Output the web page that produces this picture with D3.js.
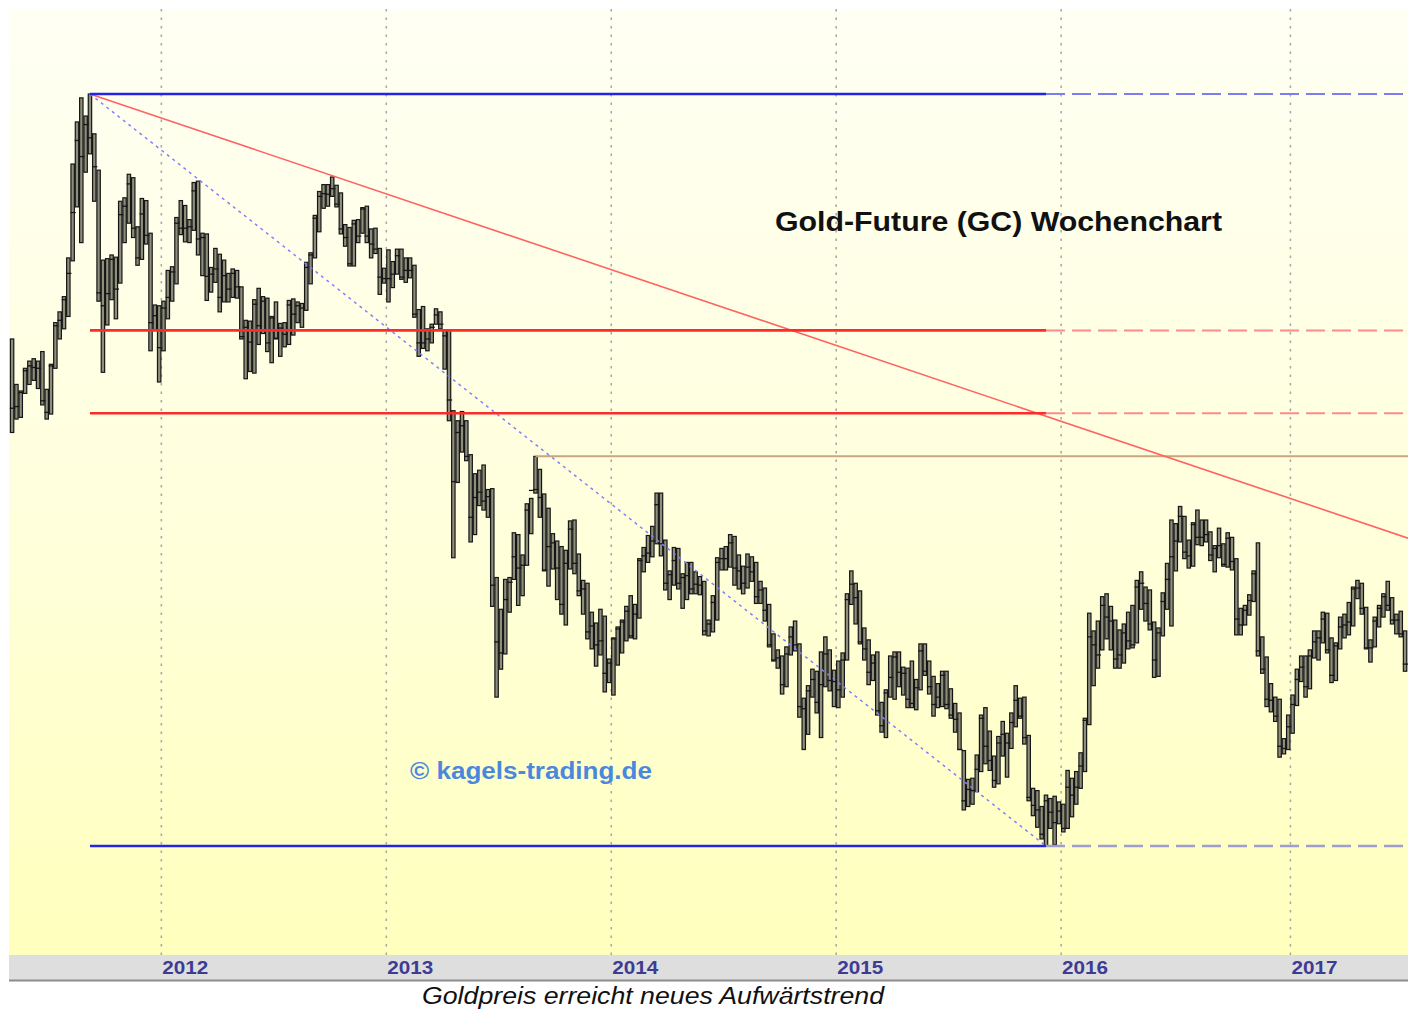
<!DOCTYPE html>
<html>
<head>
<meta charset="utf-8">
<script src="https://cdn.jsdelivr.net/npm/d3@7"></script>
<style>
  html, body { margin: 0; padding: 0; background: #ffffff; }
  svg { display: block; }
</style>
</head>
<body>
<svg id="chart" width="1408" height="1009"></svg>
<script>
// Gold futures (GC), weekly bars: [high, low, close], week ending Friday
const bars2011 = [
  [1577,1462,1491],[1520,1478,1493],[1512,1480,1510],[1540,1509,1537],[1549,1520,1543],
  [1552,1525,1541],[1549,1515,1540],[1561,1495,1500],[1514,1478,1486],[1545,1484,1543],
  [1598,1540,1594],[1612,1577,1601],[1632,1590,1628],[1684,1606,1663],[1817,1680,1747],
  [1880,1755,1852],[1917,1705,1828],[1889,1805,1876],[1923,1832,1856],[1862,1763,1813],
  [1808,1626,1637],[1681,1535,1620],[1683,1595,1636],[1688,1628,1682],[1685,1603,1642],
  [1763,1650,1744],[1768,1705,1756],[1802,1732,1788],[1797,1712,1725],[1727,1674,1684],
  [1767,1682,1745],[1764,1703,1715],[1718,1562,1598],[1621,1588,1607],[1620,1523,1566]
];
const bars2012 = [
  [1626,1562,1617],[1667,1603,1631],[1672,1626,1665],[1740,1649,1732],[1764,1716,1725],
  [1757,1706,1725],[1737,1705,1727],[1790,1722,1778],[1792,1688,1710],[1718,1660,1712],
  [1717,1627,1659],[1671,1638,1662],[1697,1651,1669],[1689,1612,1631],[1681,1625,1660],
  [1663,1625,1642],[1669,1631,1663],[1667,1630,1645],[1645,1577,1580],[1601,1527,1592],
  [1600,1536,1573],[1628,1534,1622],[1643,1570,1594],[1632,1584,1626],[1630,1561,1572],
  [1606,1547,1604],[1625,1577,1578],[1597,1555,1591],[1598,1567,1583],[1627,1570,1621],
  [1629,1582,1609],[1625,1598,1620],[1623,1592,1617],[1678,1614,1671],[1691,1649,1688],
  [1743,1684,1739],[1777,1720,1770],[1787,1753,1774],[1787,1756,1773],[1798,1770,1781],
  [1786,1755,1759],[1775,1717,1724],[1730,1700,1712],[1726,1673,1676],[1736,1673,1731],
  [1737,1705,1714],[1754,1718,1752],[1756,1705,1714],[1724,1684,1703],[1725,1690,1696],
  [1697,1635,1658],[1670,1650,1656]
];
const bars2013 = [
  [1695,1625,1656],[1679,1644,1662],[1696,1662,1687],[1696,1655,1658],[1684,1651,1667],
  [1684,1657,1667],[1674,1605,1609],[1615,1555,1572],[1619,1565,1572],[1590,1562,1577],
  [1596,1572,1592],[1616,1596,1608],[1612,1590,1596],[1588,1539,1581],[1589,1476,1501],
  [1488,1321,1405],[1476,1404,1462],[1487,1439,1470],[1476,1429,1434],[1436,1338,1365],
  [1414,1346,1387],[1418,1378,1393],[1424,1373,1383],[1396,1365,1388],[1397,1270,1292],
  [1300,1180,1234],[1267,1207,1223],[1298,1222,1277],[1300,1264,1295],[1348,1298,1322],
  [1346,1271,1310],[1324,1281,1313],[1380,1313,1373],[1386,1347,1395],[1434,1392,1396],
  [1419,1365,1387],[1391,1307,1308],[1375,1291,1333],[1347,1309,1337],[1339,1277,1310],
  [1333,1262,1272],[1329,1251,1315],[1361,1309,1352],[1362,1304,1315],[1325,1281,1286],
  [1297,1262,1288],[1294,1237,1244],[1264,1227,1250],[1253,1210,1231],[1267,1221,1235],
  [1260,1185,1203],[1217,1194,1213]
];
const bars2014 = [
  [1238,1182,1237],[1249,1211,1247],[1256,1223,1254],[1270,1235,1265],[1281,1238,1240],
  [1272,1237,1262],[1320,1258,1318],[1332,1306,1323],[1345,1316,1326],[1355,1322,1339],
  [1392,1336,1379],[1392,1323,1336],[1340,1287,1294],[1307,1277,1303],[1332,1292,1318],
  [1331,1288,1294],[1304,1268,1300],[1316,1277,1302],[1316,1283,1288],[1306,1283,1293],
  [1301,1282,1292],[1296,1241,1245],[1256,1240,1252],[1281,1244,1274],[1321,1256,1316],
  [1331,1308,1320],[1333,1308,1320],[1346,1311,1337],[1344,1292,1310],[1324,1288,1307],
  [1312,1283,1294],[1325,1289,1311],[1322,1296,1306],[1316,1273,1280],[1296,1273,1287],
  [1289,1255,1266],[1272,1229,1231],[1242,1215,1216],[1226,1208,1218],[1220,1183,1192],
  [1229,1190,1222],[1249,1221,1239],[1255,1225,1231],[1232,1161,1171],[1179,1131,1169],
  [1191,1145,1186],[1207,1180,1197],[1205,1165,1175],[1224,1142,1192],[1239,1190,1222],
  [1226,1186,1196],[1206,1171,1195]
];
const bars2015 = [
  [1215,1170,1187],[1223,1180,1216],[1283,1216,1277],[1307,1272,1293],[1294,1252,1279],
  [1286,1232,1234],[1248,1216,1227],[1236,1192,1204],[1221,1196,1213],[1224,1163,1167],
  [1175,1147,1153],[1187,1142,1184],[1220,1180,1199],[1224,1178,1219],[1224,1190,1204],
  [1209,1182,1203],[1208,1170,1178],[1215,1170,1174],[1197,1168,1189],[1232,1187,1225],
  [1232,1201,1205],[1215,1183,1190],[1200,1162,1173],[1193,1170,1180],[1205,1171,1201],
  [1205,1169,1173],[1188,1160,1163],[1174,1147,1159],[1165,1131,1131],[1130,1077,1085],
  [1104,1080,1095],[1105,1082,1094],[1126,1093,1113],[1163,1111,1160],[1170,1118,1134],
  [1148,1112,1121],[1125,1097,1103],[1143,1100,1137],[1157,1125,1145],[1146,1106,1137],
  [1165,1132,1156],[1191,1152,1177],[1179,1160,1162],[1180,1136,1142],[1144,1085,1088],
  [1096,1072,1081],[1094,1062,1077],[1080,1052,1056],[1090,1046,1085],[1087,1061,1075],
  [1089,1047,1066],[1084,1065,1076]
];
const bars2016 = [
  [1082,1058,1061],[1112,1061,1097],[1105,1071,1090],[1111,1082,1097],[1128,1096,1116],
  [1160,1111,1158],[1263,1154,1239],[1245,1191,1231],[1255,1208,1221],[1280,1226,1271],
  [1283,1237,1259],[1270,1226,1255],[1256,1208,1217],[1246,1208,1221],[1252,1213,1243],
  [1264,1227,1235],[1271,1228,1231],[1297,1233,1290],[1306,1267,1294],[1290,1255,1273],
  [1287,1246,1252],[1254,1199,1216],[1248,1200,1243],[1284,1240,1275],[1315,1267,1298],
  [1362,1250,1322],[1358,1307,1339],[1377,1338,1366],[1366,1320,1327],[1340,1310,1323],
  [1359,1312,1357],[1373,1335,1343],[1362,1334,1343],[1362,1338,1346],[1349,1318,1324],
  [1334,1306,1331],[1353,1321,1334],[1336,1312,1314],[1348,1311,1342],[1343,1308,1317],
  [1320,1241,1257],[1268,1241,1251],[1271,1251,1266],[1282,1261,1276],[1307,1275,1304],
  [1337,1220,1225],[1239,1203,1207],[1219,1171,1178],[1193,1166,1177],[1180,1157,1162],
  [1178,1124,1134],[1141,1127,1132],[1163,1131,1152]
];
const bars2017 = [
  [1182,1146,1173],[1207,1172,1197],[1220,1195,1209],[1220,1180,1190],[1226,1188,1220],
  [1245,1218,1234],[1245,1216,1238],[1264,1233,1257],[1263,1223,1226],[1238,1194,1201],
  [1233,1196,1230],[1259,1227,1249],[1262,1238,1251],[1274,1241,1254],[1290,1250,1288],
  [1297,1278,1289],[1294,1262,1268],[1269,1227,1228],[1236,1214,1228],[1259,1229,1255],
  [1271,1249,1268],[1283,1259,1280],[1296,1266,1271],[1279,1252,1256],[1262,1242,1256],
  [1265,1239,1242],[1245,1205,1212]
];

const yearLabels = ["2012", "2013", "2014", "2015", "2016", "2017"];

// Drawn chart levels
const allTimeHigh = { date: "2011-09-09", price: 1923 };
const cycleLow = { date: "2015-12-04", price: 1046 };
const lowerHigh = { date: "2012-10-05", price: 1800 };
const breakoutHigh = { date: "2013-08-30", price: 1434 };
const resistanceLevels = [1588, 1485];

const titleText = "Gold-Future (GC) Wochenchart";
const watermarkText = "\u00A9 kagels-trading.de";
const captionText = "Goldpreis erreicht neues Aufw\u00E4rtstrend";

// ---------------------------------------------------------------
const parse = d3.utcParse("%Y-%m-%d");
const svg = d3.select("#chart");
const fontFamily = "'Liberation Sans', Arial, sans-serif";

const plot = { left: 9, top: 9, right: 1408, bottom: 955 };
const bandBottom = 980;

const weeks = d3.utcFriday.range(Date.UTC(2011, 4, 6), Date.UTC(2017, 6, 8));
const allBars = [].concat(bars2011, bars2012, bars2013, bars2014, bars2015, bars2016, bars2017);
const data = allBars.map((b, i) => ({ date: weeks[i], high: b[0], low: b[1], close: b[2] }));

const x = d3.scaleUtc()
  .domain([Date.UTC(2011, 4, 1), Date.UTC(2017, 6, 15)])
  .range([plot.left, plot.right + 2]);

const y = d3.scaleLog()
  .domain([cycleLow.price, allTimeHigh.price])
  .range([846, 94]);

// background
const defs = svg.append("defs");
const grad = defs.append("linearGradient")
  .attr("id", "bg").attr("x1", 0).attr("y1", 0).attr("x2", 0).attr("y2", 1);
grad.append("stop").attr("offset", "0%").attr("stop-color", "#fffff4");
grad.append("stop").attr("offset", "55%").attr("stop-color", "#ffffdc");
grad.append("stop").attr("offset", "100%").attr("stop-color", "#ffffbd");

defs.append("clipPath").attr("id", "plotClip")
  .append("rect")
  .attr("x", plot.left).attr("y", plot.top)
  .attr("width", plot.right - plot.left).attr("height", plot.bottom - plot.top);

svg.append("rect")
  .attr("x", plot.left).attr("y", plot.top)
  .attr("width", plot.right - plot.left).attr("height", plot.bottom - plot.top)
  .attr("fill", "url(#bg)");

// time axis band
svg.append("rect")
  .attr("x", plot.left).attr("y", plot.bottom)
  .attr("width", plot.right - plot.left).attr("height", bandBottom - plot.bottom)
  .attr("fill", "#dedede");
svg.append("line")
  .attr("x1", plot.left).attr("x2", plot.right)
  .attr("y1", bandBottom + 0.5).attr("y2", bandBottom + 0.5)
  .attr("stroke", "#8c8c8c").attr("stroke-width", 2);

const g = svg.append("g").attr("clip-path", "url(#plotClip)");

// year separators sit between the last bar of a year and the first of the next
const yearStarts = yearLabels.map(yr => d3.utcFriday.ceil(Date.UTC(+yr, 0, 1)));
const halfWeek = 3.5 * 24 * 3600 * 1000;
const sepX = d => x(new Date(+d - halfWeek));

g.selectAll("line.grid")
  .data(yearStarts)
  .join("line")
  .attr("class", "grid")
  .attr("x1", sepX)
  .attr("x2", sepX)
  .attr("y1", plot.top).attr("y2", plot.bottom)
  .attr("stroke", "#aaaaaa")
  .attr("stroke-width", 1.6)
  .attr("stroke-dasharray", "2.5 6");

// year labels, starting at each separator
svg.selectAll("text.year")
  .data(yearLabels)
  .join("text")
  .attr("class", "year")
  .attr("x", (d, i) => sepX(yearStarts[i]) + 1)
  .attr("y", 974)
  .attr("font-family", fontFamily)
  .attr("font-weight", "bold")
  .attr("font-size", 19)
  .attr("textLength", 46)
  .attr("lengthAdjust", "spacingAndGlyphs")
  .attr("fill", "#3c3c94")
  .text(d => d);

// weekly bars
const barW = 3.4;
const barG = g.append("g");
barG.selectAll("rect.bar")
  .data(data)
  .join("rect")
  .attr("class", "bar")
  .attr("x", d => x(d.date) - barW / 2)
  .attr("y", d => y(d.high))
  .attr("width", barW)
  .attr("height", d => Math.max(1, y(d.low) - y(d.high)))
  .attr("fill", "#8e8e7c")
  .attr("stroke", "#161616")
  .attr("stroke-width", 1.2);
barG.selectAll("line.close")
  .data(data)
  .join("line")
  .attr("class", "close")
  .attr("x1", d => x(d.date) - barW / 2 - 0.6)
  .attr("x2", d => x(d.date) + barW / 2 + 1.4)
  .attr("y1", d => y(d.close))
  .attr("y2", d => y(d.close))
  .attr("stroke", "#161616")
  .attr("stroke-width", 1.3);

// levels and trendlines
const xHigh = x(parse(allTimeHigh.date));
const xLow = x(parse(cycleLow.date));
const xEnd = plot.right;

function hLine(price, x1, x2, color, width, dash) {
  const l = g.append("line")
    .attr("x1", x1).attr("x2", x2)
    .attr("y1", y(price)).attr("y2", y(price))
    .attr("stroke", color).attr("stroke-width", width);
  if (dash) l.attr("stroke-dasharray", dash);
  return l;
}

// break-out level from the August 2013 high
hLine(breakoutHigh.price, x(parse(breakoutHigh.date)), xEnd, "#c9a67c", 2);

// falling resistance: all-time high through the October 2012 lower high
const p1 = [xHigh, y(allTimeHigh.price)];
const p2 = [x(parse(lowerHigh.date)), y(lowerHigh.price)];
const slope = (p2[1] - p1[1]) / (p2[0] - p1[0]);
g.append("line")
  .attr("x1", p1[0]).attr("y1", p1[1])
  .attr("x2", xEnd).attr("y2", p1[1] + slope * (xEnd - p1[0]))
  .attr("stroke", "#ff6464").attr("stroke-width", 1.6);

// channel diagonal from the high to the cycle low
g.append("line")
  .attr("x1", xHigh).attr("y1", y(allTimeHigh.price))
  .attr("x2", xLow).attr("y2", y(cycleLow.price))
  .attr("stroke", "#8080ff").attr("stroke-width", 1.5)
  .attr("stroke-dasharray", "3 4");

// horizontal resistance levels
resistanceLevels.forEach(p => {
  hLine(p, xLow, xEnd, "#ff8a8a", 2, "19 7");
  hLine(p, xHigh, xLow, "#ff2a2a", 2.6);
});

// range high / range low
hLine(allTimeHigh.price, xLow, xEnd, "#7c7cf4", 2, "19 7");
hLine(allTimeHigh.price, xHigh, xLow, "#2424e6", 2.6);
hLine(cycleLow.price, xLow, xEnd, "#9d9dd2", 2.6, "19 7");
hLine(cycleLow.price, xHigh, xLow, "#2424e6", 2.6);

// texts
svg.append("text")
  .attr("x", 775).attr("y", 231)
  .attr("font-family", fontFamily)
  .attr("font-weight", "bold")
  .attr("font-size", 28)
  .attr("textLength", 447)
  .attr("lengthAdjust", "spacingAndGlyphs")
  .attr("fill", "#111111")
  .text(titleText);

svg.append("text")
  .attr("x", 410).attr("y", 779)
  .attr("font-family", fontFamily)
  .attr("font-weight", "bold")
  .attr("font-size", 23)
  .attr("textLength", 242)
  .attr("lengthAdjust", "spacingAndGlyphs")
  .attr("fill", "#4a88de")
  .text(watermarkText);

svg.append("text")
  .attr("x", 422).attr("y", 1004)
  .attr("font-family", fontFamily)
  .attr("font-style", "italic")
  .attr("font-size", 23)
  .attr("textLength", 462)
  .attr("lengthAdjust", "spacingAndGlyphs")
  .attr("fill", "#111111")
  .text(captionText);
</script>
</body>
</html>
